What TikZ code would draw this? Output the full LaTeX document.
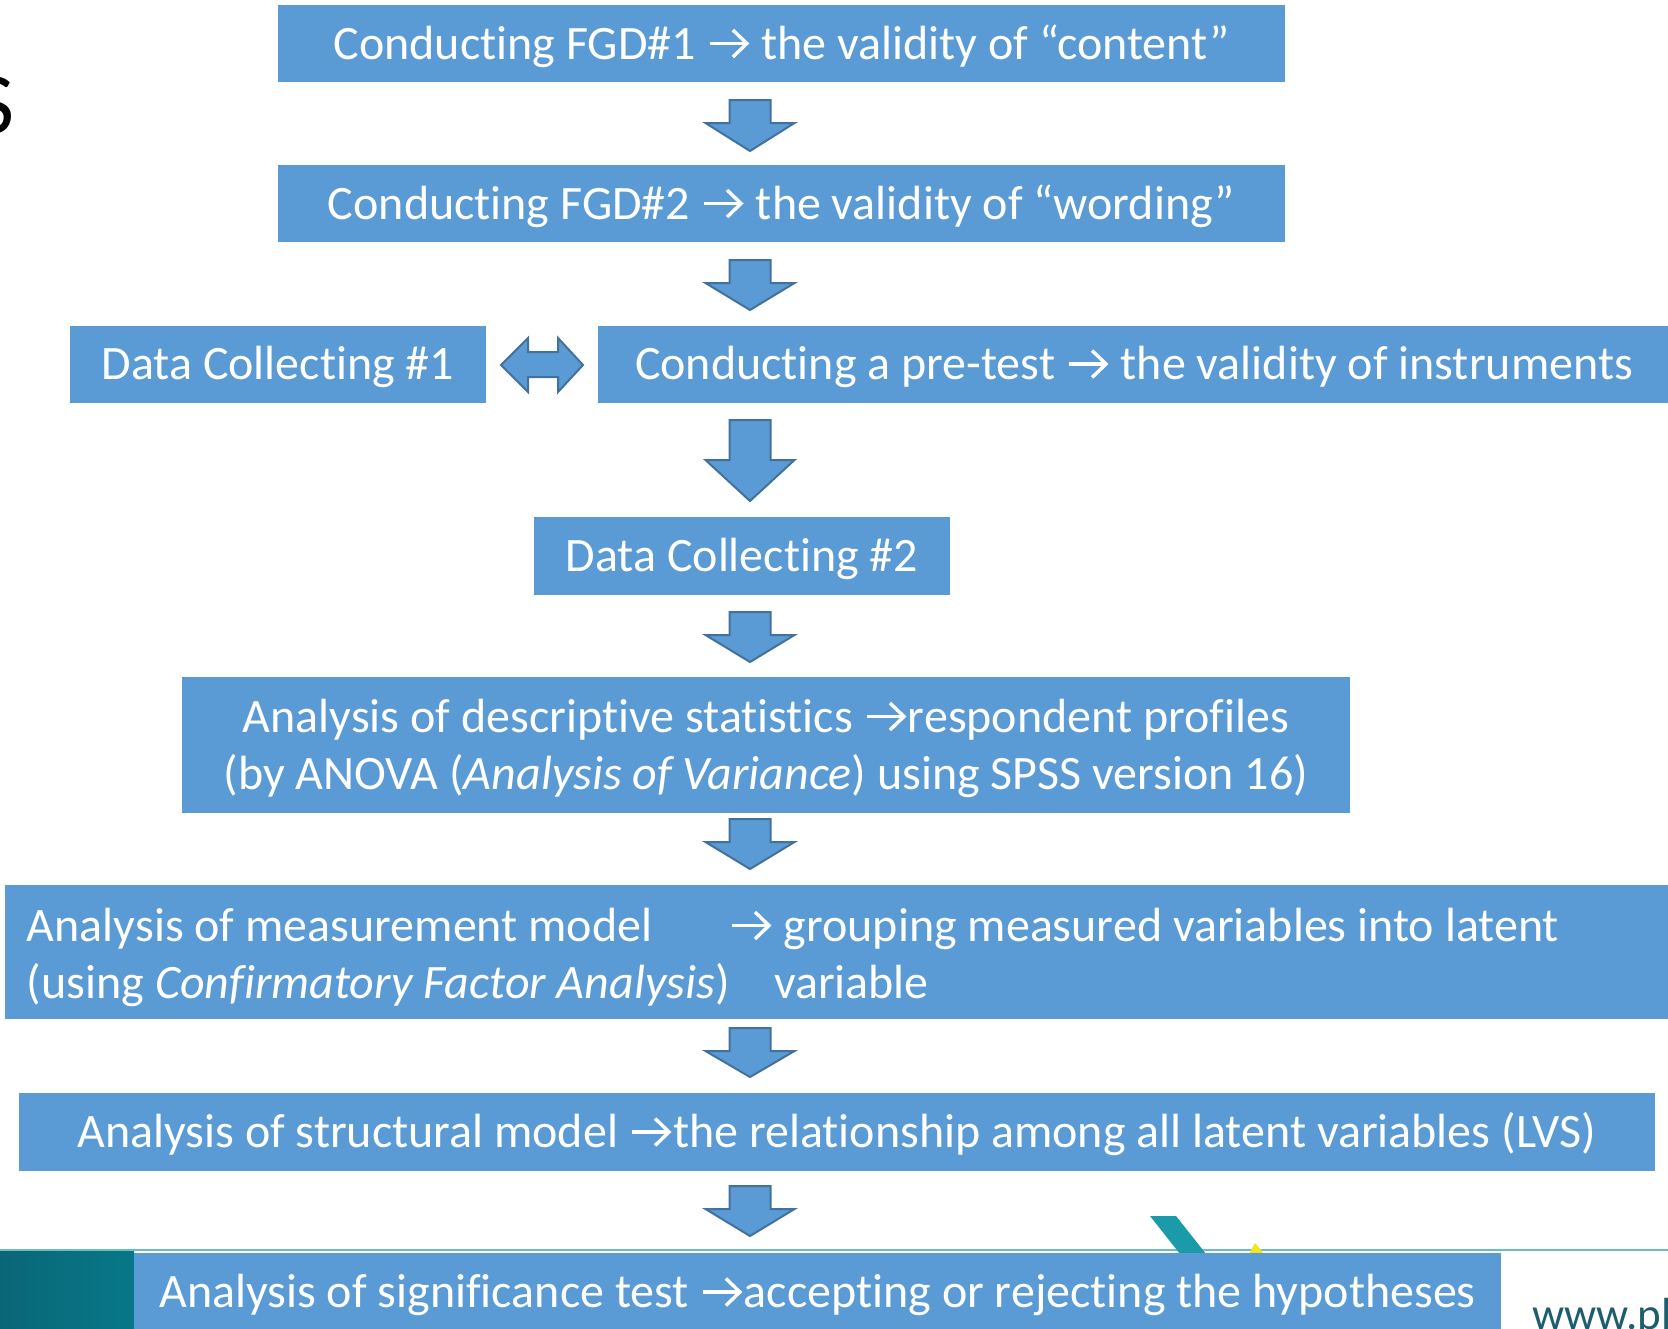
\documentclass[tikz,border=0pt]{standalone}
\usepackage{fontspec}
\setmainfont{Carlito}[Ligatures=NoCommon]
\usetikzlibrary{calc}
\definecolor{boxblue}{HTML}{5B9BD5}
\definecolor{arrowedge}{HTML}{41719C}
\definecolor{tealdark}{HTML}{0A6676}
\definecolor{teallight}{HTML}{077889}
\definecolor{tealline}{HTML}{6CBDC2}
\definecolor{logoteal}{HTML}{1B9AAA}
\definecolor{logoyellow}{HTML}{F4E41C}
\definecolor{urlteal}{HTML}{1D5E6E}

% thin right arrow set inside the text lines
\newcommand{\rarr}{\tikz[baseline=0pt,x=1pt,y=1pt]{%
  \path (0,0) rectangle (44,1);
  \draw[white,line width=3.4pt] (3,15.5) -- (39,15.5);
  \draw[white,line width=3.4pt,line join=miter] (26,29) -- (40,15.5) -- (26,2);}}

\newcommand{\bodyfont}{\fontsize{48}{57}\selectfont}

\tikzset{
  box/.style={fill=boxblue, text=white, inner sep=0pt, font=\bodyfont,
              text height=36pt, text depth=5pt},
  txt/.style={text=white, inner sep=0pt, font=\bodyfont},
  blockarrow/.style={fill=boxblue, draw=arrowedge, line width=2pt, line join=miter},
  pics/downarrow/.style n args={2}{code={%
    \path[blockarrow] (-20.5,0) -- (20.5,0) -- (20.5,#1) -- (44.5,#1) -- (0,#2)
      -- (-44.5,#1) -- (-20.5,#1) -- cycle;}}
}

\begin{document}
\begin{tikzpicture}[x=1pt,y=-1pt]
\useasboundingbox (0,0) rectangle (1668,1328);
\clip (0,0) rectangle (1668,1328);

% remaining letter of the slide title
\node[anchor=base east, inner sep=0pt, font=\fontsize{87}{90}\selectfont] (title) at (15,133) {S};

% footer: teal block, rule, logo and address
\shade[left color=tealdark, right color=teallight] (0,1251) rectangle (134,1330);
\draw[tealline, line width=2pt] (0,1250) -- (1668,1250);
\fill[logoteal] (1150,1216) -- (1176,1216) -- (1214,1264) -- (1188,1264) -- cycle;
\fill[logoyellow] (1248,1256) -- (1255,1243) -- (1266,1256) -- cycle;
\node[anchor=base west, inner sep=0pt, text=urlteal, font=\fontsize{45}{50}\selectfont] (url) at (1532,1329) {www.pl};

% process boxes
\node[box, minimum width=1007pt, minimum height=77pt] (fgd1) at (781.5,43.5)
  {Conducting FGD\#1 \rarr{} the validity of “content”};
\node[box, minimum width=1007pt, minimum height=77pt] (fgd2) at (781.5,203.5)
  {Conducting FGD\#2 \rarr{} the validity of “wording”};
\node[box, minimum width=416pt, minimum height=77pt] (dc1) at (278,364)
  {Data Collecting \#1};
\node[box, minimum width=1072pt, minimum height=77pt] (pre) at (1134,364)
  {Conducting a pre-test \rarr{} the validity of instruments};
\node[box, minimum width=416pt, minimum height=78pt] (dc2) at (742,556)
  {Data Collecting \#2};

\node[box, minimum width=1168pt, minimum height=136pt] (anova) at (766,745) {};
\node[txt, anchor=base] (anova1) at ($(anova.center)+(0,-13)$)
  {Analysis of descriptive statistics \rarr{}respondent profiles};
\node[txt, anchor=base] (anova2) at ($(anova.center)+(0,44)$)
  {(by ANOVA (\textit{Analysis of Variance}) using SPSS version 16)};

\node[box, minimum width=1665pt, minimum height=134pt] (meas) at (837.5,952) {};
\node[txt, anchor=base west] (meas1) at ($(meas.west)+(22,-11)$)
  {Analysis of measurement model};
\node[txt, anchor=base west] (meas2) at ($(meas.west)+(22,46)$)
  {(using \textit{Confirmatory Factor Analysis})};
\node[txt, anchor=base west] (meas3) at ($(meas.west)+(724,-11)$)
  {\rarr{} grouping measured variables into latent};
\node[txt, anchor=base west] (meas4) at ($(meas.west)+(769,46)$)
  {variable};

\node[box, minimum width=1636pt, minimum height=78pt] (struct) at (837,1132)
  {Analysis of structural model \rarr{}the relationship among all latent variables (LVS)};
\node[box, minimum width=1367pt, minimum height=78pt] (sig) at (817.5,1292)
  {Analysis of significance test \rarr{}accepting or rejecting the hypotheses};

% block arrows between the steps
\pic at (750,100) {downarrow={23}{51}};
\pic at (750,260) {downarrow={23}{50}};
\pic at (750,420) {downarrow={40}{81}};
\pic at (750,612) {downarrow={23}{50}};
\pic at (750,819) {downarrow={23}{50}};
\pic at (750,1028) {downarrow={23}{49}};
\pic at (750,1186) {downarrow={23}{50}};

% two-way arrow between the first data collection and the pre-test
\path[blockarrow] (501,365) -- (528,338) -- (528,352) -- (558,352) -- (558,338)
  -- (583,365) -- (558,392) -- (558,377) -- (528,377) -- (528,392) -- cycle;
\end{tikzpicture}
\end{document}
